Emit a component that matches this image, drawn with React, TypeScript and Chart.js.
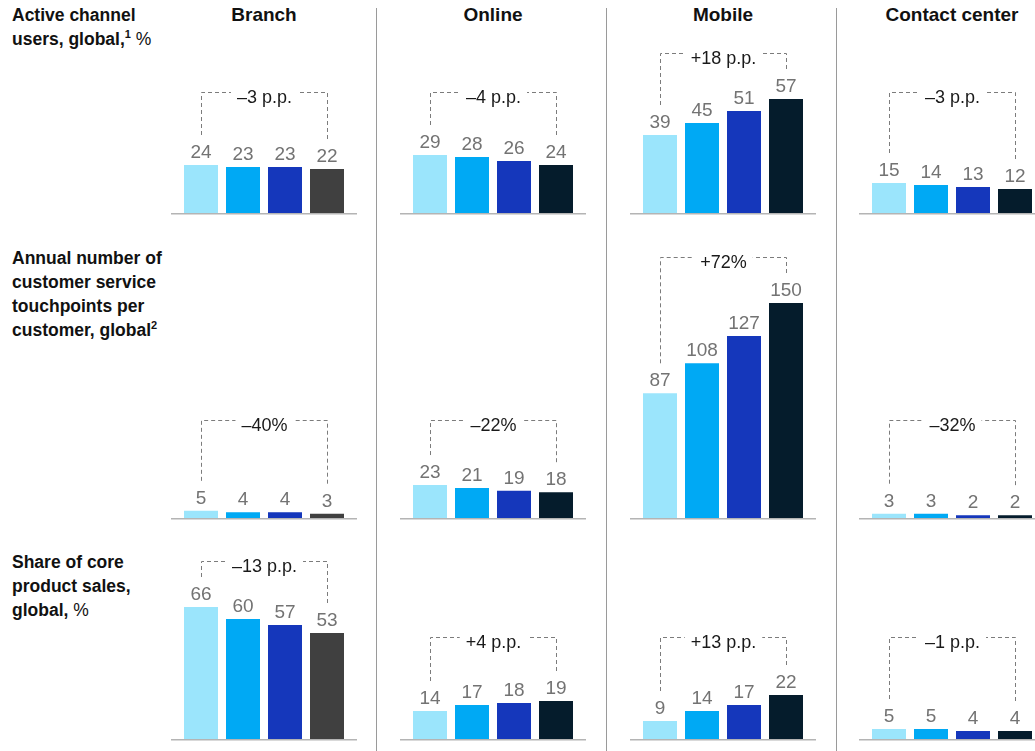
import React, { useEffect, useRef } from 'react';
import { Chart, registerables } from 'chart.js';

Chart.register(...registerables);

// ---------- data ----------
const channels = ['Branch', 'Online', 'Mobile', 'Contact center'];
const periods = ['Period 1', 'Period 2', 'Period 3', 'Period 4'];

const activeUsers = [
  [24, 23, 23, 22],
  [29, 28, 26, 24],
  [39, 45, 51, 57],
  [15, 14, 13, 12],
];
const activeUsersChange = ['–3 p.p.', '–4 p.p.', '+18 p.p.', '–3 p.p.'];

const touchpoints = [
  [5, 4, 4, 3],
  [23, 21, 19, 18],
  [87, 108, 127, 150],
  [3, 3, 2, 2],
];
const touchpointsChange = ['–40%', '–22%', '+72%', '–32%'];

const salesShare = [
  [66, 60, 57, 53],
  [14, 17, 18, 19],
  [9, 14, 17, 22],
  [5, 5, 4, 4],
];
const salesShareChange = ['–13 p.p.', '+4 p.p.', '+13 p.p.', '–1 p.p.'];

const rowValues = [activeUsers, touchpoints, salesShare];
const rowChanges = [activeUsersChange, touchpointsChange, salesShareChange];

// ---------- styling / layout ----------
const FONT = '"Liberation Sans", Arial, Helvetica, sans-serif';
const barColors = ['#9BE5FC', '#00A9F4', '#1537BB'];
const lastColor = (col: number) => (col === 0 ? '#404040' : '#051C2C');

const rowLayouts = [
  { top: 30, height: 190, padTop: 23, padBottom: 7, yMax: 80, lift: 121 },
  { top: 230, height: 295, padTop: 30, padBottom: 7, yMax: 180, lift: 98 },
  { top: 530, height: 221, padTop: 49, padBottom: 12, yMax: 80, lift: 102 },
];
const colAreaLeft = [180, 409, 639, 868];
const AREA_W = 168;
const SIDE = 12;

const annotatePlugin = {
  id: 'annotate',
  afterDatasetsDraw(chart: any, _args: any, opts: any) {
    const ctx: CanvasRenderingContext2D = chart.ctx;
    const area = chart.chartArea;
    const bars = chart.getDatasetMeta(0).data;
    const values = chart.data.datasets[0].data as number[];
    ctx.save();
    // baseline
    ctx.strokeStyle = '#b4b4b4';
    ctx.lineWidth = 1.5;
    ctx.beginPath();
    ctx.moveTo(area.left - 9, area.bottom + 0.75);
    ctx.lineTo(area.right + 9, area.bottom + 0.75);
    ctx.stroke();

    // value labels
    ctx.font = `19px ${FONT}`;
    ctx.fillStyle = '#737373';
    ctx.textAlign = 'center';
    ctx.textBaseline = 'alphabetic';
    let minTop = Infinity;
    bars.forEach((b: any, i: number) => {
      ctx.fillText(String(values[i]), b.x, b.y - 7);
      minTop = Math.min(minTop, b.y);
    });

    // bracket
    const by = Math.round(Math.min(area.bottom - opts.lift, minTop - 46)) + 0.5;
    const first = bars[0];
    const last = bars[bars.length - 1];
    const x1 = Math.round(first.x) + 0.5;
    const x2 = Math.round(last.x) + 0.5;
    const cx = (x1 + x2) / 2;
    ctx.font = `18px ${FONT}`;
    const tw = ctx.measureText(opts.change).width;
    ctx.strokeStyle = '#7c7c7c';
    ctx.lineWidth = 1;
    ctx.setLineDash([4, 3]);
    ctx.beginPath();
    ctx.moveTo(x1, first.y - 30);
    ctx.lineTo(x1, by);
    ctx.lineTo(cx - tw / 2 - 6, by);
    ctx.moveTo(x2, last.y - 30);
    ctx.lineTo(x2, by);
    ctx.lineTo(cx + tw / 2 + 6, by);
    ctx.stroke();
    ctx.setLineDash([]);
    ctx.fillStyle = '#1a1a1a';
    ctx.fillText(opts.change, cx, by + 10);
    ctx.restore();
  },
};

function Cell({ row, col }: { row: number; col: number }) {
  const ref = useRef<HTMLCanvasElement>(null);
  const lay = rowLayouts[row];
  const width = AREA_W + SIDE * 2;
  useEffect(() => {
    if (!ref.current) return;
    const values = rowValues[row][col];
    const chart = new Chart(ref.current, {
      type: 'bar',
      data: {
        labels: periods,
        datasets: [
          {
            data: values,
            backgroundColor: [...barColors, lastColor(col)],
            borderWidth: 0,
            barPercentage: 34 / 42,
            categoryPercentage: 1,
          },
        ],
      },
      options: {
        responsive: false,
        animation: false,
        devicePixelRatio: 1,
        layout: { padding: { left: SIDE, right: SIDE, top: lay.padTop, bottom: lay.padBottom } },
        plugins: {
          legend: { display: false },
          tooltip: { enabled: false },
          annotate: { lift: lay.lift, change: rowChanges[row][col] },
        } as any,
        scales: {
          x: { display: false },
          y: { display: false, min: 0, max: lay.yMax },
        },
      },
      plugins: [annotatePlugin],
    });
    return () => chart.destroy();
  }, [row, col]);
  return (
    <canvas
      ref={ref}
      width={width}
      height={lay.height}
      style={{
        position: 'absolute',
        left: colAreaLeft[col] - SIDE,
        top: lay.top,
        width,
        height: lay.height,
      }}
    />
  );
}

const labelStyle: React.CSSProperties = {
  position: 'absolute',
  left: 12,
  fontWeight: 700,
  fontSize: 17.5,
  lineHeight: '24px',
  color: '#111',
  whiteSpace: 'nowrap',
};
const supStyle: React.CSSProperties = {
  fontSize: 11,
  position: 'relative',
  top: -7,
  lineHeight: 0,
};

export default function App() {
  return (
    <div
      style={{
        position: 'fixed',
        left: 0,
        top: 0,
        width: 1035,
        height: 751,
        overflow: 'hidden',
        background: '#fff',
        fontFamily: FONT,
      }}
    >
      {/* column headers */}
      {channels.map((c, i) => (
        <div
          key={c}
          style={{
            position: 'absolute',
            left: colAreaLeft[i] + AREA_W / 2 - 110,
            width: 220,
            top: 3,
            textAlign: 'center',
            fontWeight: 700,
            fontSize: 19,
            lineHeight: '24px',
            color: '#111',
          }}
        >
          {c}
        </div>
      ))}
      {/* dividers */}
      {[376, 606, 836].map((x) => (
        <div
          key={x}
          style={{ position: 'absolute', left: x, top: 8, width: 1, height: 743, background: '#9a9a9a' }}
        />
      ))}
      {/* row labels */}
      <div style={{ ...labelStyle, top: 3 }}>
        Active channel
        <br />
        users, global,<span style={supStyle}>1</span> <span style={{ fontWeight: 400 }}>%</span>
      </div>
      <div style={{ ...labelStyle, top: 246 }}>
        Annual number of
        <br />
        customer service
        <br />
        touchpoints per
        <br />
        customer, global<span style={supStyle}>2</span>
      </div>
      <div style={{ ...labelStyle, top: 550 }}>
        Share of core
        <br />
        product sales,
        <br />
        global, <span style={{ fontWeight: 400 }}>%</span>
      </div>
      {[0, 1, 2].map((r) => [0, 1, 2, 3].map((c) => <Cell key={`${r}-${c}`} row={r} col={c} />))}
    </div>
  );
}
